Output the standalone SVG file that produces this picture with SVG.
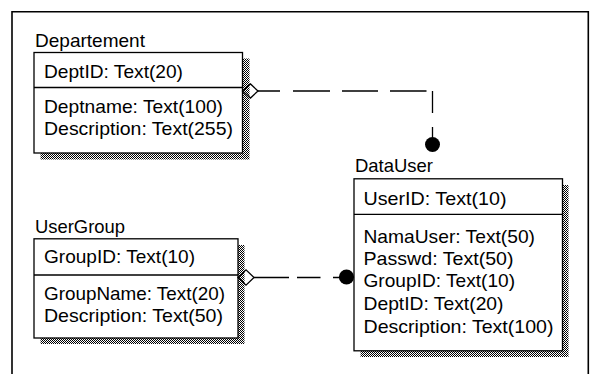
<svg xmlns="http://www.w3.org/2000/svg" width="590" height="374" viewBox="0 0 590 374">
  <defs>
    <pattern id="stipple" patternUnits="userSpaceOnUse" width="2" height="2">
      <rect width="2" height="2" fill="#ffffff"/>
      <rect x="0" y="0" width="1" height="1" fill="#000000"/>
      <rect x="1" y="1" width="1" height="1" fill="#000000"/>
    </pattern>
  </defs>
  <style>
    text { font-family: "Liberation Sans", Arial, sans-serif; font-size: 19px; fill: #000; }
    .shadow { fill: url(#stipple); stroke: none; }
    .box { fill: #ffffff; stroke: #000; stroke-width: 1.3; }
    .div { stroke: #000; stroke-width: 1.3; fill: none; }
    .frame { fill: none; stroke: #000; stroke-width: 1.6; }
    .conn { fill: none; stroke: #000; stroke-width: 1.3; }
    .dot { fill: #000; stroke: none; }
  </style>
  <rect width="590" height="374" fill="#ffffff"/>
  <path class="frame" d="M12,374 V11.8 H588.3 V374"/>

  <g id="Departement">
    <rect class="shadow" x="40.5" y="58.5" width="209" height="101"/>
    <rect class="box" x="34" y="52.5" width="208.5" height="100.5"/>
    <line class="div" x1="34" y1="87.5" x2="242.5" y2="87.5"/>
    <text x="35" y="46.5" textLength="110" lengthAdjust="spacingAndGlyphs">Departement</text>
    <text x="44" y="77.5" textLength="139" lengthAdjust="spacingAndGlyphs">DeptID: Text(20)</text>
    <text x="44" y="113.3" textLength="179" lengthAdjust="spacingAndGlyphs">Deptname: Text(100)</text>
    <text x="44" y="135" textLength="189" lengthAdjust="spacingAndGlyphs">Description: Text(255)</text>
  </g>

  <g id="UserGroup">
    <rect class="shadow" x="40.5" y="245" width="204" height="99"/>
    <rect class="box" x="34" y="238.8" width="204" height="99.2"/>
    <line class="div" x1="34" y1="275" x2="238" y2="275"/>
    <text x="35" y="233" textLength="90" lengthAdjust="spacingAndGlyphs">UserGroup</text>
    <text x="44" y="263.3" textLength="151" lengthAdjust="spacingAndGlyphs">GroupID: Text(10)</text>
    <text x="44" y="300" textLength="181" lengthAdjust="spacingAndGlyphs">GroupName: Text(20)</text>
    <text x="44" y="321.7" textLength="179" lengthAdjust="spacingAndGlyphs">Description: Text(50)</text>
  </g>

  <g id="DataUser">
    <rect class="shadow" x="360.5" y="185" width="208" height="172"/>
    <rect class="box" x="354" y="178.8" width="208.5" height="172"/>
    <line class="div" x1="354" y1="214.3" x2="562.5" y2="214.3"/>
    <text x="355" y="171.5" textLength="78" lengthAdjust="spacingAndGlyphs">DataUser</text>
    <text x="363.5" y="205" textLength="143" lengthAdjust="spacingAndGlyphs">UserID: Text(10)</text>
    <text x="363.5" y="242.5" textLength="171.5" lengthAdjust="spacingAndGlyphs">NamaUser: Text(50)</text>
    <text x="363.5" y="265" textLength="150" lengthAdjust="spacingAndGlyphs">Passwd: Text(50)</text>
    <text x="363.5" y="287" textLength="151.5" lengthAdjust="spacingAndGlyphs">GroupID: Text(10)</text>
    <text x="363.5" y="310" textLength="140" lengthAdjust="spacingAndGlyphs">DeptID: Text(20)</text>
    <text x="363.5" y="333.3" textLength="190" lengthAdjust="spacingAndGlyphs">Description: Text(100)</text>
  </g>

  <g id="connectors">
    <g id="Departement-DataUser">
      <path class="conn" d="M242.5,91 L250.5,84 L258,91 L250.5,98 Z"/>
      <path class="conn" d="M258,91 H280 M293,91 H330 M342,91 H378 M390,91 H426.5 M432.5,91 V113 M432.5,127 V137.5"/>
      <circle class="dot" cx="432.5" cy="144.5" r="7.5"/>
    </g>
    <g id="UserGroup-DataUser">
      <path class="conn" d="M238,277.5 L246,269.8 L254,277.5 L246,285.2 Z"/>
      <path class="conn" d="M254,277.5 H289 M297,277.5 H320.5 M333,277.5 H340"/>
      <circle class="dot" cx="346.5" cy="277" r="7.6"/>
    </g>
  </g>
</svg>
